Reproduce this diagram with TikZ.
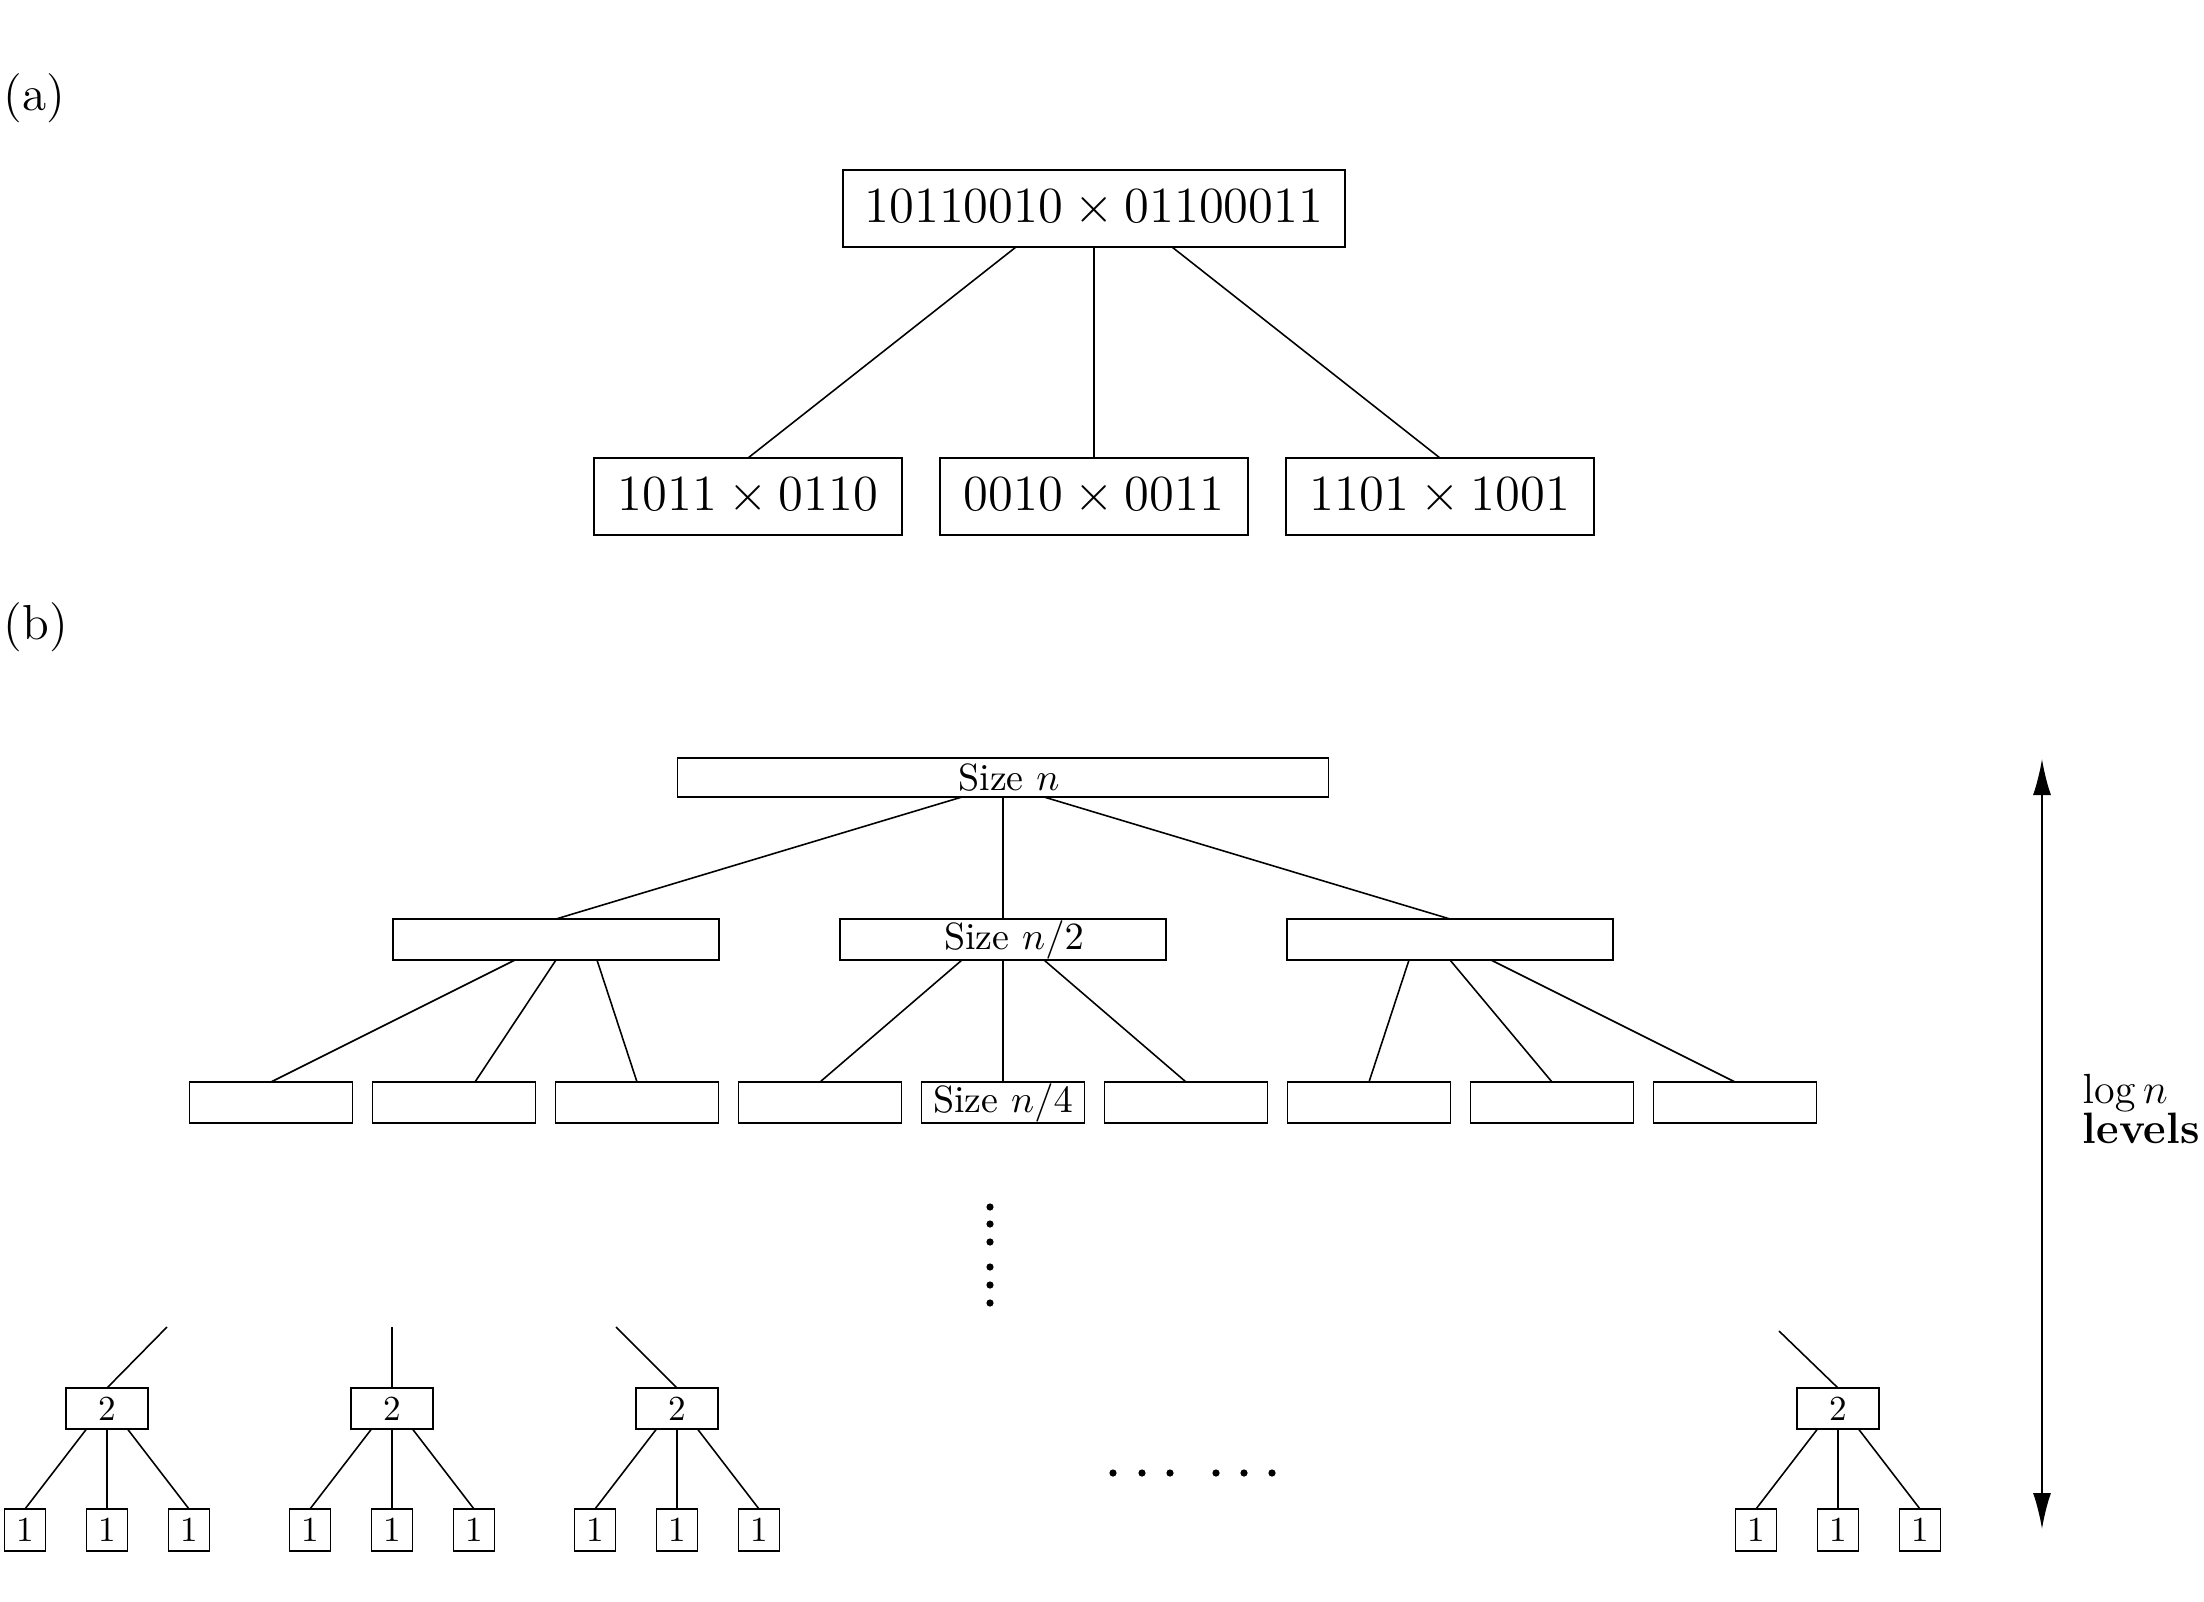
\documentclass[tikz,border=0pt]{standalone}
\usepackage{amsmath,amssymb}
\usepackage{tikz}
\usetikzlibrary{arrows.meta, positioning}
\tikzset{
  basebox/.style={rectangle,draw=black,line width=0.45pt,inner sep=0pt,outer sep=0pt,align=center},
  prodbox/.style={basebox,minimum width=5.02cm,minimum height=0.77cm,font=\Large},
  halfbox/.style={basebox,minimum width=3.08cm,minimum height=0.77cm,font=\Large},
  sizeAbox/.style={basebox,minimum width=6.51cm,minimum height=0.39cm,font=\fontsize{10.8}{12}\selectfont},
  sizeBbox/.style={basebox,minimum width=3.26cm,minimum height=0.41cm,font=\fontsize{10.8}{12}\selectfont},
  sizeCbox/.style={basebox,minimum width=1.63cm,minimum height=0.41cm,font=\fontsize{10.8}{12}\selectfont},
  twobox/.style={basebox,minimum width=0.82cm,minimum height=0.41cm,font=\fontsize{10}{12}\selectfont},
  onebox/.style={basebox,minimum width=0.41cm,minimum height=0.42cm,font=\fontsize{10}{12}\selectfont},
  partlabel/.style={anchor=west,inner sep=0pt,font=\fontsize{14}{16}\selectfont},
  edge/.style={line width=0.45pt},
  lvarrow/.style={line width=0.5pt,{Latex[length=3.6mm,width=1.8mm]}-{Latex[length=3.6mm,width=1.8mm]}}
}

\begin{document}
\begin{tikzpicture}
  \useasboundingbox (0,0) rectangle (22.04,-16.02);

  %% Part (a): one product split into three
  \node[partlabel] (lbla) at (0.03,-0.98) {(a)};
  \node[prodbox] (prod) at (10.94,-2.085) {$10110010 \times 01100011$};
  \node[halfbox,below=2.11cm of prod] (pb) {$0010 \times 0011$};
  \node[halfbox,left=0.38cm of pb] (pa) {$1011 \times 0110$};
  \node[halfbox,right=0.38cm of pb] (pc) {$1101 \times 1001$};
  \draw[edge] ([xshift=-0.78cm]prod.south) -- (pa.north);
  \draw[edge] (prod.south) -- (pb.north);
  \draw[edge] ([xshift=0.78cm]prod.south) -- (pc.north);

  %% Part (b): recursion tree
  \node[partlabel] (lblb) at (0.03,-6.27) {(b)};
  \node[sizeAbox] (root) at (10.03,-7.775) {\hspace*{0.12cm}Size $n$};

  %% level two
  \node[sizeBbox,below=1.22cm of root] (h2) {\hspace*{0.22cm}Size $n/2$};
  \node[sizeBbox,left=1.21cm of h2] (h1) {};
  \node[sizeBbox,right=1.21cm of h2] (h3) {};
  \draw[edge] ([xshift=-0.41cm]root.south) -- (h1.north);
  \draw[edge] (root.south) -- (h2.north);
  \draw[edge] ([xshift=0.41cm]root.south) -- (h3.north);

  %% level three
  \node[sizeCbox,below=1.22cm of h2] (q5) {Size $n/4$};
  \node[sizeCbox,left=0.2cm of q5] (q4) {};
  \node[sizeCbox,left=0.2cm of q4] (q3) {};
  \node[sizeCbox,left=0.2cm of q3] (q2) {};
  \node[sizeCbox,left=0.2cm of q2] (q1) {};
  \node[sizeCbox,right=0.2cm of q5] (q6) {};
  \node[sizeCbox,right=0.2cm of q6] (q7) {};
  \node[sizeCbox,right=0.2cm of q7] (q8) {};
  \node[sizeCbox,right=0.2cm of q8] (q9) {};
  \draw[edge] ([xshift=-0.41cm]h1.south) -- (q1.north);
  \draw[edge] (h1.south) -- ([xshift=0.21cm]q2.north);
  \draw[edge] ([xshift=0.41cm]h1.south) -- (q3.north);
  \draw[edge] ([xshift=-0.41cm]h2.south) -- (q4.north);
  \draw[edge] (h2.south) -- (q5.north);
  \draw[edge] ([xshift=0.41cm]h2.south) -- (q6.north);
  \draw[edge] ([xshift=-0.41cm]h3.south) -- (q7.north);
  \draw[edge] (h3.south) -- (q8.north);
  \draw[edge] ([xshift=0.41cm]h3.south) -- (q9.north);

  %% dots between the levels
  \foreach \y in {-12.07,-12.24,-12.42,-12.67,-12.85,-13.03}
    \fill (9.90,\y) circle (0.036);
  \foreach \x in {11.13,11.42,11.70,12.16,12.44,12.72}
    \fill (\x,-14.73) circle (0.036);

  %% bottom level: size 2 and size 1
  \coordinate (s1) at (1.67,-13.27);
  \coordinate (s2) at (3.92,-13.27);
  \coordinate (s3) at (6.16,-13.27);
  \coordinate (s4) at (17.79,-13.31);
  \foreach \i/\x in {1/1.07,2/3.92,3/6.77,4/18.38}{
    \node[twobox] (t\i) at (\x,-14.085) {2};
    \node[onebox,below=0.8cm of t\i] (m\i) {1};
    \node[onebox,left=0.41cm of m\i] (l\i) {1};
    \node[onebox,right=0.41cm of m\i] (r\i) {1};
    \draw[edge] (s\i) -- (t\i.north);
    \draw[edge] ([xshift=-0.205cm]t\i.south) -- (l\i.north);
    \draw[edge] (t\i.south) -- (m\i.north);
    \draw[edge] ([xshift=0.205cm]t\i.south) -- (r\i.north);
  }

  %% depth of the tree
  \coordinate (lvtop) at (20.42,-7.59);
  \coordinate (lvbot) at (20.42,-15.29);
  \draw[lvarrow] (lvtop) -- (lvbot);
  \node[anchor=west,inner sep=0pt,align=left,font=\fontsize{12.5}{11.5}\selectfont]
    (lvlabel) at (20.82,-11.09) {$\log n$\\\textbf{levels}};
\end{tikzpicture}
\end{document}
